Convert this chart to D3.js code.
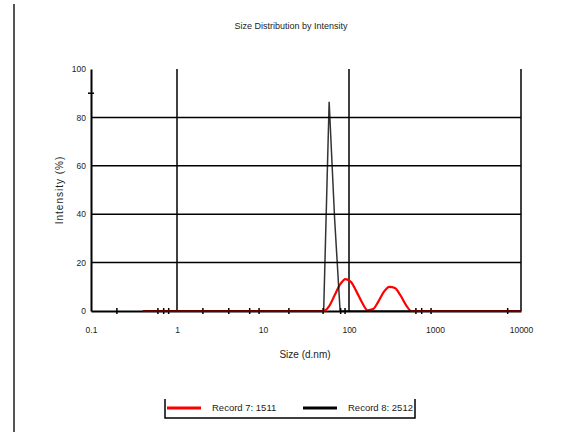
<!DOCTYPE html>
<html>
<head>
<meta charset="utf-8">
<script src="https://cdn.jsdelivr.net/npm/d3@7"></script>
<style>
  body { margin: 0; background: #fff; }
  text { font-family: "Liberation Sans", Arial, sans-serif; fill: #222; }
</style>
</head>
<body>
<svg width="566" height="432"></svg>
<script>
  // size bins (d.nm) and intensity (%) for each record
  var record7Size = [0.4, 43.82, 50.75, 58.77, 68.06, 78.82, 91.28, 105.7, 122.4, 141.8, 164.2, 190.1, 220.2, 255.0, 295.3, 342.0, 396.1, 458.7, 531.2, 10000];
  var record7Val  = [0,   0,     0,     2,     6.5,   11,    13.2,  12,    8,     3.5,   0.3,   0.8,   4,     8,     10,    9.5,   6.5,   2.5,   0,     0];
  var record8Size = [0.4, 43.82, 50.75, 58.77, 68.06, 78.82, 91.28, 10000];
  var record8Val  = [0,   0,     0,     86.5,  38,    0,     0,     0];

  var seriesNames = ["Record 7: 1511", "Record 8: 2512"];
  var xTickLabels = [0.1, 1, 10, 100, 1000, 10000];
  var xMinorTicks = [0.2, 0.6, 0.7, 0.8, 2, 4, 7, 9, 20, 50, 80, 90, 600, 700, 900, 7000];
  var yTickLabels = [0, 20, 40, 60, 80, 100];
  var yMinorTicks = [90];
  var xGrid = [1, 100, 10000];
  var yGrid = [20, 40, 60, 80];

  var svg = d3.select('svg');

  var x = d3.scaleLog().domain([0.1, 10000]).range([91, 521]);
  var y = d3.scaleLinear().domain([0, 100]).range([311, 69]);

  // page border line on the left
  svg.append('line')
    .attr('x1', 14).attr('x2', 14)
    .attr('y1', 4).attr('y2', 432)
    .attr('stroke', '#555')
    .attr('stroke-width', 2);

  svg.append('text')
    .attr('x', 291).attr('y', 29)
    .attr('text-anchor', 'middle')
    .style('font-size', '9px')
    .text('Size Distribution by Intensity');

  // grid
  svg.selectAll('line.hgrid')
    .data(yGrid)
    .enter().append('line')
    .attr('class', 'hgrid')
    .attr('x1', x(0.1)).attr('x2', x(10000))
    .attr('y1', function (d) { return y(d); })
    .attr('y2', function (d) { return y(d); })
    .attr('stroke', '#000')
    .attr('stroke-width', 1.5);

  svg.selectAll('line.vgrid')
    .data(xGrid)
    .enter().append('line')
    .attr('class', 'vgrid')
    .attr('x1', function (d) { return x(d); })
    .attr('x2', function (d) { return x(d); })
    .attr('y1', y(100)).attr('y2', y(0))
    .attr('stroke', '#000')
    .attr('stroke-width', 1.5);

  // axes
  var yAxis = d3.axisLeft(y).tickValues(yTickLabels).tickSize(0).tickPadding(5)
    .tickFormat(d3.format('d'));
  var yg = svg.append('g').attr('transform', 'translate(' + x(0.1) + ',0)').call(yAxis);
  yg.select('.domain').attr('stroke', '#000').attr('stroke-width', 2);
  yg.selectAll('text').style('font-size', '8.5px').style('font-family', '"Liberation Sans", Arial, sans-serif');

  var xAxis = d3.axisBottom(x).tickValues(xTickLabels).tickSize(0).tickPadding(16)
    .tickFormat(function (d) { return String(d); });
  var xg = svg.append('g').attr('transform', 'translate(0,' + y(0) + ')').call(xAxis);
  xg.select('.domain').attr('stroke', '#000').attr('stroke-width', 2);
  xg.selectAll('text').style('font-size', '8.5px').style('font-family', '"Liberation Sans", Arial, sans-serif');

  // minor ticks crossing the axes
  svg.selectAll('line.xminor')
    .data(xMinorTicks)
    .enter().append('line')
    .attr('x1', function (d) { return x(d); })
    .attr('x2', function (d) { return x(d); })
    .attr('y1', y(0) - 3).attr('y2', y(0) + 3)
    .attr('stroke', '#000').attr('stroke-width', 1.5);

  svg.selectAll('line.yminor')
    .data(yMinorTicks)
    .enter().append('line')
    .attr('x1', x(0.1) - 3).attr('x2', x(0.1) + 3)
    .attr('y1', function (d) { return y(d); })
    .attr('y2', function (d) { return y(d); })
    .attr('stroke', '#000').attr('stroke-width', 1.5);

  svg.append('text')
    .attr('x', 305).attr('y', 358)
    .attr('text-anchor', 'middle')
    .style('font-size', '10px')
    .text('Size (d.nm)');

  svg.append('text')
    .attr('transform', 'translate(63,190) rotate(-90)')
    .attr('text-anchor', 'middle')
    .style('font-size', '10px')
    .style('letter-spacing', '1px')
    .text('Intensity (%)');

  // series
  var line = d3.line()
    .x(function (d) { return x(d[0]); })
    .y(function (d) { return y(d[1]); })
    .curve(d3.curveMonotoneX);

  var lineSharp = d3.line()
    .x(function (d) { return x(d[0]); })
    .y(function (d) { return y(d[1]); });

  svg.append('path')
    .datum(d3.zip(record7Size, record7Val))
    .attr('d', line)
    .attr('fill', 'none')
    .attr('stroke', '#ff0000')
    .attr('stroke-width', 2.2);

  svg.append('path')
    .datum(d3.zip(record8Size, record8Val))
    .attr('d', lineSharp)
    .attr('fill', 'none')
    .attr('stroke', '#000')
    .attr('stroke-width', 1.5)
    .attr('stroke-opacity', 0.8);

  // legend
  var leg = svg.append('g');
  leg.append('path')
    .attr('d', 'M165,399 L165,418 L415,418 L415,399')
    .attr('fill', 'none')
    .attr('stroke', '#000')
    .attr('stroke-width', 1.5);

  var legColors = ['#ff0000', '#000'];
  var legX = [167, 303];
  seriesNames.forEach(function (name, i) {
    leg.append('line')
      .attr('x1', legX[i]).attr('x2', legX[i] + 34)
      .attr('y1', 408).attr('y2', 408)
      .attr('stroke', legColors[i])
      .attr('stroke-width', 3);
    leg.append('text')
      .attr('x', legX[i] + 45).attr('y', 411)
      .style('font-size', '9.5px')
      .text(name);
  });
</script>
</body>
</html>
